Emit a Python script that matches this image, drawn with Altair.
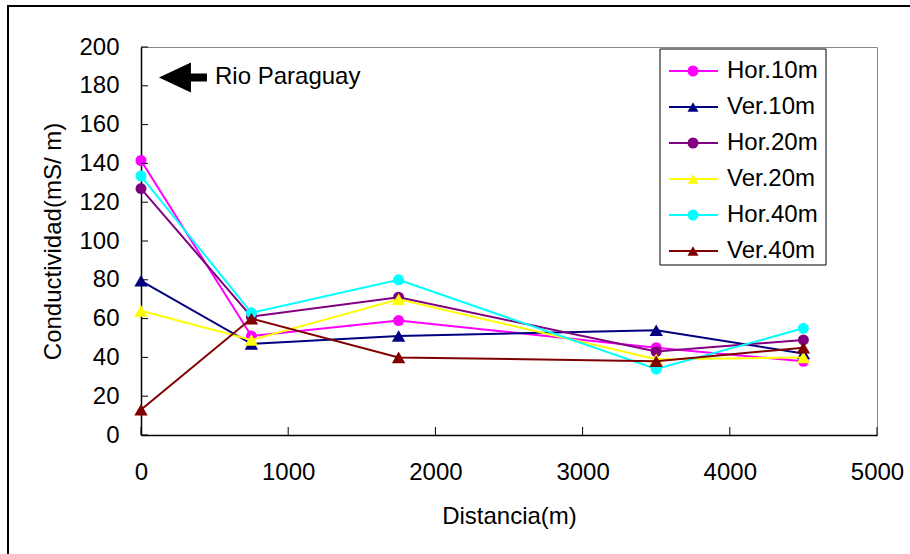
import altair as alt
import pandas as pd

# ---- data ----
dist = [0, 750, 1750, 3500, 4500]
series_names = ["Hor.10m", "Ver.10m", "Hor.20m", "Ver.20m", "Hor.40m", "Ver.40m"]
hor10 = [141.5, 51, 59, 45, 38]
ver10 = [79.5, 47, 51, 54, 42]
hor20 = [127, 61, 71, 43, 49]
ver20 = [64, 49, 70, 39, 40]
hor40 = [133.5, 63, 80, 34, 55]
ver40 = [13, 60, 40, 38, 45]
series_values = [hor10, ver10, hor20, ver20, hor40, ver40]
colors = ["#FF00FF", "#000080", "#800080", "#FFFF00", "#00FFFF", "#800000"]
shapes = ["circle", "triangle-up", "circle", "triangle-up", "circle", "triangle-up"]
y_ticks = [0, 20, 40, 60, 80, 100, 120, 140, 160, 180, 200]
x_ticks = [0, 1000, 2000, 3000, 4000, 5000]
annotation_text = ["Rio Paraguay"]

FONT = "Liberation Sans"
FS = 24
W, H = 736, 388

xscale = alt.Scale(domain=[0, 5000], nice=False, zero=False)
yscale = alt.Scale(domain=[0, 200], nice=False)

xaxis = alt.Axis(values=x_ticks, format="d", title="Distancia(m)", labelPadding=25,
                 titleX=W / 2, titleY=81, titleBaseline="middle", titleAlign="center",
                 labelOverlap=False, labelFlush=False)
yaxis = alt.Axis(values=y_ticks, format="d", title="Conductividad(mS/ m)", labelPadding=22,
                 titleX=-88, titleY=H / 2, titleAngle=-90,
                 titleBaseline="middle", titleAlign="center",
                 labelOverlap=False, labelFlush=False)

rows = []
for name, vals in zip(series_names, series_values):
    for d, v in zip(dist, vals):
        rows.append({"series": name, "dist": d, "value": v})
df = pd.DataFrame(rows)

def X(f):
    return alt.X(f, scale=xscale, axis=xaxis)

def Y(f):
    return alt.Y(f, scale=yscale, axis=yaxis)

layers = []
for name, col, shp in zip(series_names, colors, shapes):
    sub = alt.Chart(df).transform_filter(alt.datum.series == name)
    layers.append(sub.mark_line(color=col, strokeWidth=2).encode(
        x=X("dist:Q"), y=Y("value:Q"), order="dist:Q"))
    size = 121 if shp == "circle" else 180
    layers.append(sub.mark_point(shape=shp, filled=True, opacity=1, color=col, size=size)
                  .encode(x=X("dist:Q"), y=Y("value:Q")))

# inward tick marks
ytk = alt.Chart(pd.DataFrame({"v": y_ticks})).mark_rule(color="black", strokeWidth=1).encode(
    y=Y("v:Q"), x=alt.value(0), x2=alt.value(7))
xtk = alt.Chart(pd.DataFrame({"v": x_ticks})).mark_rule(color="black", strokeWidth=1).encode(
    x=X("v:Q"), y=alt.value(H), y2=alt.value(H - 8))

# annotation: arrow + text
ann = pd.DataFrame({"x": [285], "y": [184.3], "tx": [503], "label": annotation_text})
arrow_path = "M -1 0 L 0.333 -0.625 L 0.333 -0.167 L 1 -0.167 L 1 0.167 L 0.333 0.167 L 0.333 0.625 Z"
arrow = alt.Chart(ann).mark_point(shape=arrow_path, filled=True, color="black", size=2304, opacity=1).encode(
    x=X("x:Q"), y=Y("y:Q"))
ann_text = alt.Chart(ann).mark_text(font=FONT, fontSize=FS, align="left", baseline="middle", color="black").encode(
    x=X("tx:Q"), y=Y("y:Q"), text="label:N")

# outer frame (left and top edges visible)
one = pd.DataFrame({"a": [0]})
frame_left = alt.Chart(one).mark_rule(color="black", strokeWidth=2).encode(
    x=alt.value(-133), y=alt.value(-41), y2=alt.value(520))
frame_top = alt.Chart(one).mark_rule(color="black", strokeWidth=2).encode(
    x=alt.value(-134), x2=alt.value(780), y=alt.value(-41))

main = alt.layer(*layers, ytk, xtk, arrow, ann_text, frame_left, frame_top)

# custom legend
leg = pd.DataFrame({"series": series_names, "color": colors, "shape": shapes})
LY = alt.Y("series:N", sort=series_names,
           scale=alt.Scale(type="point", domain=series_names, range=[24, 204], padding=0), axis=None)
cscale = alt.Scale(domain=series_names, range=colors)
sscale = alt.Scale(domain=series_names, range=shapes)
box = alt.Chart(one).mark_rect(fill="white", stroke="black", strokeWidth=1).encode(
    x=alt.value(519), x2=alt.value(685), y=alt.value(2), y2=alt.value(218))
leg_line = alt.Chart(leg).mark_rule(strokeWidth=2).encode(
    y=LY, x=alt.value(528), x2=alt.value(577),
    color=alt.Color("series:N", scale=cscale, legend=None))
leg_pt = alt.Chart(leg).mark_point(filled=True, opacity=1, size=121).encode(
    y=LY, x=alt.value(552),
    color=alt.Color("series:N", scale=cscale, legend=None),
    shape=alt.Shape("series:N", scale=sscale, legend=None))
leg_txt = alt.Chart(leg).mark_text(font=FONT, fontSize=FS, align="left", baseline="middle", color="black").encode(
    y=LY, x=alt.value(586), text="series:N")
legend = alt.layer(box, leg_line, leg_pt, leg_txt)

chart = alt.layer(main, legend).resolve_scale(y="independent").properties(
    width=W, height=H,
    autosize=alt.AutoSizeParams(type="none"),
    padding={"left": 141, "top": 47, "right": 33, "bottom": 119},
    background="white",
).configure_view(stroke="#888888", strokeWidth=1).configure_axis(
    labelFont=FONT, labelFontSize=FS, labelColor="black",
    titleFont=FONT, titleFontSize=FS, titleFontWeight="normal", titleColor="black",
    domainColor="black", domainWidth=1.5, ticks=False, grid=False,
)

chart.save("out.html", embed_options={"renderer": "svg", "actions": False})
